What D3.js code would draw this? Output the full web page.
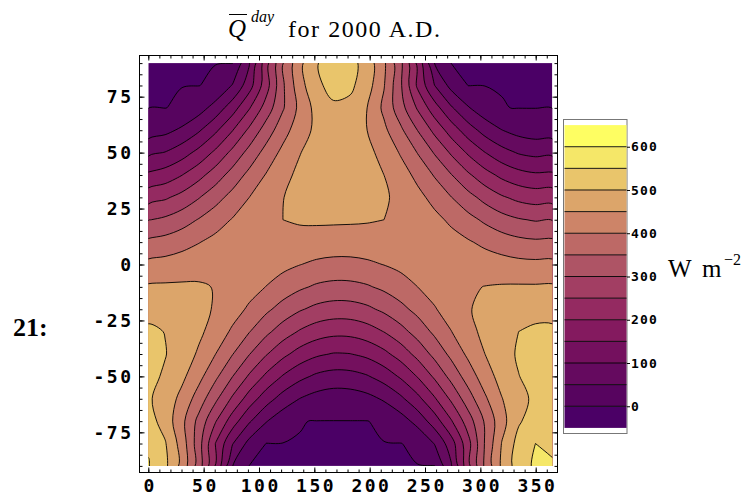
<!DOCTYPE html>
<html lang="en">
<head>
  <meta charset="UTF-8">
  <title>Daily mean insolation, 2000 A.D.</title>
  <script src="https://d3js.org/d3.v7.min.js"></script>
  <style>
    body { margin: 0; background: #fff; }
    .tick text {
      font-family: "DejaVu Sans Mono", monospace;
      font-weight: bold;
      font-size: 18px;
      letter-spacing: 2.5px;
      fill: #000;
    }
    .legend .tick text { font-size: 13px; letter-spacing: 1.2px; }
    .tick line { stroke: #000; }
    .serif { font-family: "Liberation Serif", "Times New Roman", serif; fill: #000; }
  </style>
</head>
<body>
<script>
  // day of year for each grid column
  const days = [0, 15.2, 30.4, 45.6, 60.8, 76, 91.3, 106.5, 121.7, 136.9, 152.1, 167.3, 182.5,
                197.7, 212.9, 228.1, 243.3, 258.5, 273.8, 289, 304.2, 319.4, 334.6, 349.8, 365];
  // latitude of each grid row (top to bottom)
  const lats = [90, 80, 70, 60, 50, 40, 30, 20, 10, 0, -10, -20, -30, -40, -50, -60, -70, -80, -90];

  // daily mean insolation, W m^-2 (one row per latitude, one column per day)
  const qday = [
    [0, 0, 0, 0, 0, 0, 96, 232, 348, 438, 497, 524, 517, 479, 409, 311, 188, 50, 0, 0, 0, 0, 0, 0, 0],
    [0, 0, 0, 0, 6, 53, 129, 228, 343, 431, 490, 516, 510, 472, 403, 306, 191, 101, 34, 0, 0, 0, 0, 0, 0],
    [0, 0, 5, 28, 70, 127, 196, 271, 345, 413, 467, 492, 486, 450, 389, 319, 244, 171, 106, 54, 19, 1, 0, 0, 0],
    [26, 37, 59, 94, 141, 198, 260, 323, 380, 428, 461, 477, 473, 450, 411, 359, 299, 237, 177, 124, 81, 51, 33, 25, 26],
    [89, 102, 128, 165, 211, 263, 317, 368, 413, 448, 472, 483, 479, 463, 434, 395, 348, 296, 243, 193, 151, 118, 96, 87, 89],
    [159, 173, 199, 234, 275, 320, 364, 403, 436, 461, 477, 484, 481, 470, 450, 422, 387, 346, 302, 258, 219, 188, 167, 157, 159],
    [230, 243, 266, 297, 332, 367, 400, 428, 449, 464, 473, 476, 474, 468, 456, 438, 414, 385, 351, 317, 284, 256, 237, 228, 230],
    [298, 309, 328, 353, 379, 403, 424, 440, 450, 455, 457, 457, 456, 454, 450, 442, 430, 413, 391, 366, 341, 319, 304, 296, 298],
    [360, 368, 382, 398, 414, 427, 436, 439, 438, 434, 430, 427, 427, 428, 431, 433, 433, 428, 418, 405, 389, 374, 363, 358, 360],
    [413, 418, 425, 433, 438, 438, 434, 425, 413, 401, 391, 386, 386, 392, 401, 412, 423, 430, 433, 431, 426, 420, 414, 412, 413],
    [456, 457, 457, 455, 448, 436, 419, 399, 377, 358, 343, 336, 337, 345, 360, 379, 400, 419, 435, 445, 451, 454, 455, 455, 456],
    [487, 484, 477, 464, 445, 421, 392, 360, 331, 305, 287, 278, 279, 290, 310, 336, 365, 396, 423, 446, 464, 476, 483, 487, 487],
    [507, 499, 484, 460, 429, 392, 352, 312, 275, 245, 224, 214, 215, 228, 251, 283, 320, 360, 399, 434, 463, 486, 500, 507, 507],
    [515, 502, 478, 443, 400, 352, 302, 254, 213, 180, 158, 147, 149, 162, 187, 222, 266, 314, 363, 410, 450, 483, 505, 516, 515],
    [513, 494, 461, 415, 360, 301, 243, 190, 146, 113, 91, 81, 83, 96, 121, 157, 203, 258, 316, 373, 426, 469, 499, 514, 513],
    [506, 480, 435, 377, 310, 242, 177, 122, 79, 49, 31, 23, 25, 35, 56, 90, 136, 194, 259, 327, 392, 448, 488, 508, 506],
    [520, 480, 413, 335, 253, 174, 106, 53, 18, 1, 0, 0, 0, 0, 5, 27, 67, 125, 196, 275, 356, 432, 494, 525, 520],
    [545, 504, 428, 321, 198, 103, 34, 0, 0, 0, 0, 0, 0, 0, 0, 0, 6, 52, 128, 232, 354, 452, 518, 550, 545],
    [553, 511, 434, 326, 195, 51, 0, 0, 0, 0, 0, 0, 0, 0, 0, 0, 0, 0, 95, 235, 359, 459, 526, 558, 553]
  ];

  // contour levels and the colour of each band (first = below 0, then 0-50, 50-100, ...)
  const levels = [0, 50, 100, 150, 200, 250, 300, 350, 400, 450, 500, 550, 600];
  const bandColors = ['#4b0066', '#57045f', '#650a5f', '#74105e', '#841a5f', '#942a61', '#a23e63',
                      '#ae5465', '#bd6966', '#cd8468', '#dca56a', '#e9c56b', '#f5e768', '#fefe62'];

  const dayTicks = [0, 50, 100, 150, 200, 250, 300, 350];
  const latTicks = [-75, -50, -25, 0, 25, 50, 75];
  const legendTicks = [0, 100, 200, 300, 400, 500, 600];

  const width = 753, height = 501;
  const svg = d3.select('body').append('svg')
    .attr('width', width)
    .attr('height', height);

  const x = d3.scaleLinear().domain([0, 365]).range([148.3, 552.3]);
  const y = d3.scaleLinear().domain([-90, 90]).range([465.9, 63.1]);

  // d3.contours puts grid sample i at coordinate i + 0.5
  const gx = d3.scaleLinear().domain([0.5, days.length - 0.5]).range([x(days[0]), x(days[days.length - 1])]);
  const gy = d3.scaleLinear().domain([0.5, lats.length - 0.5]).range([y(lats[0]), y(lats[lats.length - 1])]);

  svg.append('clipPath').attr('id', 'plotclip')
    .append('rect')
    .attr('x', x(0)).attr('y', y(90))
    .attr('width', x(365) - x(0)).attr('height', y(-90) - y(90));

  const plot = svg.append('g').attr('clip-path', 'url(#plotclip)');

  plot.append('rect')
    .attr('x', x(0)).attr('y', y(90))
    .attr('width', x(365) - x(0)).attr('height', y(-90) - y(90))
    .attr('fill', bandColors[0]);

  // the 0 line separates polar night (exactly 0) from everything lit
  const contours = d3.contours()
    .size([days.length, lats.length])
    .thresholds(levels.map(v => Math.max(v, 0.5)))(qday.flat());

  const ringLine = d3.line()
    .x(p => gx(p[0]))
    .y(p => gy(p[1]))
    .curve(d3.curveCatmullRomClosed.alpha(0.5));

  function pathOf(geom) {
    return geom.coordinates
      .map(poly => poly.map(ring => ringLine(ring.slice(0, -1))).join(''))
      .join('');
  }

  plot.selectAll('path.band')
    .data(contours)
    .join('path')
    .attr('class', 'band')
    .attr('d', pathOf)
    .attr('fill', (d, i) => bandColors[i + 1])
    .attr('fill-rule', 'evenodd')
    .attr('stroke', '#000')
    .attr('stroke-width', 0.9);

  // frame
  const fx0 = 139.5, fx1 = 557.5, fy0 = 55.5, fy1 = 472.5;
  svg.append('rect')
    .attr('x', fx0).attr('y', fy0)
    .attr('width', fx1 - fx0).attr('height', fy1 - fy0)
    .attr('fill', 'none')
    .attr('stroke', '#000')
    .attr('stroke-width', 1);

  const dayMinor = d3.range(0, 366, 10);
  const latMinor = d3.range(-90, 91, 5);
  const noDomain = g => g.select('.domain').remove();

  // bottom
  svg.append('g').attr('transform', `translate(0,${fy1})`)
    .call(d3.axisBottom(x).tickValues(dayMinor).tickSize(-3).tickFormat('')).call(noDomain);
  svg.append('g').attr('transform', `translate(0,${fy1})`)
    .call(d3.axisBottom(x).tickValues(dayTicks).tickSize(-5).tickPadding(7)).call(noDomain)
    .selectAll('text').attr('dx', 1.25);
  // top
  svg.append('g').attr('transform', `translate(0,${fy0})`)
    .call(d3.axisTop(x).tickValues(dayMinor).tickSize(-3).tickFormat('')).call(noDomain);
  svg.append('g').attr('transform', `translate(0,${fy0})`)
    .call(d3.axisTop(x).tickValues(dayTicks).tickSize(-5).tickFormat('')).call(noDomain);
  // left
  svg.append('g').attr('transform', `translate(${fx0},0)`)
    .call(d3.axisLeft(y).tickValues(latMinor).tickSize(-3).tickFormat('')).call(noDomain);
  svg.append('g').attr('transform', `translate(${fx0},0)`)
    .call(d3.axisLeft(y).tickValues(latTicks).tickSize(-5).tickPadding(6)
      .tickFormat(d => d < 0 ? '-' + Math.abs(d) : d)).call(noDomain);
  // right
  svg.append('g').attr('transform', `translate(${fx1},0)`)
    .call(d3.axisRight(y).tickValues(latMinor).tickSize(-3).tickFormat('')).call(noDomain);
  svg.append('g').attr('transform', `translate(${fx1},0)`)
    .call(d3.axisRight(y).tickValues(latTicks).tickSize(-5).tickFormat('')).call(noDomain);

  // colour bar
  const ly = d3.scaleLinear().domain([-50, 650]).range([427.9, 125.1]);
  const bandEdges = [-50].concat(levels, [650]);
  const legend = svg.append('g').attr('class', 'legend');

  legend.append('rect')
    .attr('x', 563.5).attr('y', 119.5)
    .attr('width', 63.5).attr('height', 314)
    .attr('fill', '#fff')
    .attr('stroke', '#777');

  legend.selectAll('rect.lband')
    .data(bandColors)
    .join('rect')
    .attr('class', 'lband')
    .attr('x', 564.5).attr('width', 62)
    .attr('y', (d, i) => ly(bandEdges[i + 1]))
    .attr('height', (d, i) => ly(bandEdges[i]) - ly(bandEdges[i + 1]))
    .attr('fill', d => d);

  legend.selectAll('line.lvl')
    .data(levels)
    .join('line')
    .attr('class', 'lvl')
    .attr('x1', 564.5).attr('x2', 626.5)
    .attr('y1', d => ly(d)).attr('y2', d => ly(d))
    .attr('stroke', '#000')
    .attr('stroke-width', 0.9);

  legend.append('g').attr('transform', 'translate(627,0)')
    .call(d3.axisRight(ly).tickValues(legendTicks).tickSize(3).tickPadding(1)).call(noDomain);

  // texts
  svg.append('text').attr('class', 'serif')
    .attr('x', 668).attr('y', 277)
    .style('font-size', '25px')
    .text('W');
  svg.append('text').attr('class', 'serif')
    .attr('x', 702).attr('y', 277)
    .style('font-size', '25px')
    .text('m');
  svg.append('text').attr('class', 'serif')
    .attr('x', 724).attr('y', 265)
    .style('font-size', '16px')
    .text('\u22122');

  svg.append('text').attr('class', 'serif')
    .attr('x', 228).attr('y', 37)
    .style('font-size', '25px')
    .style('font-style', 'italic')
    .text('Q');
  svg.append('line')
    .attr('x1', 229).attr('x2', 247)
    .attr('y1', 14.5).attr('y2', 14.5)
    .attr('stroke', '#000')
    .attr('stroke-width', 1);
  svg.append('text').attr('class', 'serif')
    .attr('x', 251).attr('y', 22)
    .style('font-size', '16px')
    .style('font-style', 'italic')
    .text('day');
  svg.append('text').attr('class', 'serif')
    .attr('x', 288).attr('y', 37)
    .attr('textLength', 152)
    .attr('lengthAdjust', 'spacing')
    .style('font-size', '24px')
    .text('for 2000 A.D.');

  svg.append('text').attr('class', 'serif')
    .attr('x', 13).attr('y', 336)
    .style('font-size', '26px')
    .style('font-weight', 'bold')
    .text('21:');
</script>
</body>
</html>
